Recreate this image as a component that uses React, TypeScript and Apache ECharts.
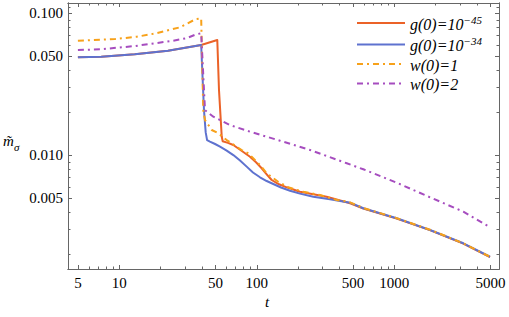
import React, { useEffect, useRef } from 'react';
import * as echarts from 'echarts';

// g(0)=10^-45 (solid orange-red)
const g45T = [5, 7.39, 12.95, 22.6, 39.4, 51.6, 53.1, 55.6, 56.5, 61.7, 67.5, 77.4, 89.2, 98.7, 108.5, 117.6, 128.3, 145, 165, 206, 322, 477, 595, 1041, 1818, 3176, 4966];
const g45M = [0.049, 0.0495, 0.0514, 0.0545, 0.0598, 0.0649, 0.0288, 0.0135, 0.01256, 0.01224, 0.01181, 0.01076, 0.00977, 0.00893, 0.0081, 0.00738, 0.0067, 0.00625, 0.00595, 0.00554, 0.00511, 0.00459, 0.00422, 0.00358, 0.00297, 0.00239, 0.00192];

// g(0)=10^-34 (solid blue)
const g34T = [5, 7.39, 12.95, 22.6, 39.4, 41.3, 42.5, 43.5, 45.6, 49.7, 54, 60.4, 67.5, 75.5, 84.4, 93.8, 105.5, 118, 131.8, 150, 174.4, 206, 257.6, 340.6, 476.8, 595, 1041, 1818, 3176, 4966];
const g34M = [0.049, 0.0495, 0.0514, 0.0545, 0.0598, 0.0208, 0.0145, 0.0128, 0.0125, 0.01201, 0.0115, 0.0108, 0.01004, 0.00919, 0.00832, 0.00757, 0.007, 0.00659, 0.00628, 0.00593, 0.00563, 0.00537, 0.00511, 0.0049, 0.00464, 0.00424, 0.0036, 0.00298, 0.0024, 0.00193];

// w(0)=1 (dot-dashed orange)
const w1T = [5, 9.3, 13.4, 18.5, 27.6, 36.1, 39.4, 40.8, 42.0, 47.0, 52.5, 60.4, 77.6, 86.7, 105.5, 118, 143, 169, 218, 288, 381, 463, 595, 1041, 1818, 3176, 4966];
const w1M = [0.0641, 0.0659, 0.0684, 0.0723, 0.0797, 0.0912, 0.0922, 0.0208, 0.01772, 0.01507, 0.01429, 0.0128, 0.01089, 0.01033, 0.00855, 0.00747, 0.00651, 0.00595, 0.00554, 0.00525, 0.00484, 0.00471, 0.00426, 0.00361, 0.00299, 0.0024, 0.00193];

// w(0)=2 (dot-dashed purple)
const w2T = [5, 7.39, 9.78, 12.95, 18.1, 23.9, 30.7, 36.3, 39.4, 42.0, 48.3, 63.8, 89.2, 118, 147.5, 244, 451, 595, 1041, 1818, 3176, 4966];
const w2M = [0.0551, 0.0558, 0.0573, 0.0588, 0.0615, 0.0638, 0.0667, 0.0712, 0.0723, 0.0208, 0.0187, 0.01634, 0.01466, 0.01352, 0.01267, 0.0109, 0.00879, 0.00797, 0.00641, 0.00506, 0.00401, 0.00311];

const xMajorTicks = [5, 10, 50, 100, 500, 1000, 5000];
const xMinorTicks = [6, 7, 8, 9, 20, 30, 40, 60, 70, 80, 90, 200, 300, 400, 600, 700, 800, 900, 2000, 3000, 4000];
const yMajorTicks = [0.005, 0.01, 0.05, 0.1];
const yMinorTicks = [0.002, 0.003, 0.004, 0.006, 0.007, 0.008, 0.009, 0.02, 0.03, 0.04, 0.06, 0.07, 0.08, 0.09, 0.11];

const seriesNames = ['g45', 'g34', 'w1', 'w2'];
const legendTexts: Record<string, string> = {
  g45: '{a|g(0)=10}{s|−45}',
  g34: '{a|g(0)=10}{s|−34}',
  w1: '{a|w(0)=1}',
  w2: '{a|w(0)=2}',
};

const X_MIN = 4.236;
const X_MAX = 5773;
const Y_MIN = 0.001582;
const Y_MAX = 0.1182;

const FRAME = '#666666';
const SERIF = 'Liberation Serif';
const DOTDASH = [6, 4, 2, 4];

function mkAxis(kind: 'x' | 'y', position: string, ticks: number[], len: number, labels: boolean) {
  const isX = kind === 'x';
  return {
    type: 'log',
    logBase: 10,
    position,
    min: isX ? X_MIN : Y_MIN,
    max: isX ? X_MAX : Y_MAX,
    axisLine: { show: true, lineStyle: { color: FRAME, width: 1 } },
    axisTick: { show: true, inside: true, length: len, customValues: ticks, lineStyle: { color: FRAME, width: 1 } },
    axisLabel: {
      show: labels,
      customValues: ticks,
      margin: isX ? 6 : 5,
      fontFamily: SERIF,
      fontSize: 15,
      color: '#000',
      formatter: (v: number) => (isX ? String(Math.round(v)) : Number(v).toFixed(3)),
    },
    splitLine: { show: false },
    minorTick: { show: false },
    minorSplitLine: { show: false },
  };
}

function pairs(t: number[], m: number[]) {
  return t.map((v, i) => [v, m[i]]);
}

function mkSeries(name: string, data: number[][], color: string, dashed: boolean) {
  return {
    name,
    type: 'line',
    data,
    xAxisIndex: 0,
    yAxisIndex: 0,
    showSymbol: false,
    symbol: 'none',
    smooth: false,
    itemStyle: { color },
    lineStyle: { color, width: 2, type: dashed ? DOTDASH : 'solid', cap: 'butt', join: 'round' },
  };
}

export default function App() {
  const ref = useRef<HTMLDivElement>(null);
  useEffect(() => {
    const chart = echarts.init(ref.current!, null, { renderer: 'svg' });
    const option: any = {
      animation: false,
      backgroundColor: '#ffffff',
      grid: { left: 68, right: 10, top: 3, bottom: 48, containLabel: false, outerBoundsMode: 'none' },
      xAxis: [
        mkAxis('x', 'bottom', xMajorTicks, 4, true),
        mkAxis('x', 'bottom', xMinorTicks, 2.5, false),
        mkAxis('x', 'top', xMajorTicks, 4, false),
        mkAxis('x', 'top', xMinorTicks, 2.5, false),
      ],
      yAxis: [
        mkAxis('y', 'left', yMajorTicks, 4, true),
        mkAxis('y', 'left', yMinorTicks, 2.5, false),
        mkAxis('y', 'right', yMajorTicks, 4, false),
        mkAxis('y', 'right', yMinorTicks, 2.5, false),
      ],
      legend: {
        orient: 'vertical',
        left: 351,
        top: 9,
        itemWidth: 48,
        itemHeight: 14,
        itemGap: 3.5,
        data: seriesNames,
        itemStyle: { opacity: 0 },
        formatter: (name: string) => legendTexts[name],
        textStyle: {
          color: '#000',
          fontFamily: SERIF,
          fontStyle: 'italic',
          fontSize: 16,
          rich: {
            a: { fontFamily: SERIF, fontStyle: 'italic', fontSize: 16, color: '#000', lineHeight: 18, verticalAlign: 'bottom' },
            s: { fontFamily: SERIF, fontStyle: 'italic', fontSize: 11, color: '#000', lineHeight: 11, verticalAlign: 'top' },
          },
        },
      },
      graphic: [
        { type: 'text', left: 3, top: 133, style: { text: 'm\u0303', font: `italic 15px ${SERIF}`, fill: '#000' } },
        { type: 'text', left: 14, top: 141, style: { text: 'σ', font: `italic 11px ${SERIF}`, fill: '#000' } },
        { type: 'text', left: 265, top: 294, style: { text: 't', font: `italic 15px ${SERIF}`, fill: '#000' } },
      ],
      series: [
        mkSeries('g45', pairs(g45T, g45M), '#EB6228', false),
        mkSeries('g34', pairs(g34T, g34M), '#5E72CF', false),
        mkSeries('w1', pairs(w1T, w1M), '#F7A11A', true),
        mkSeries('w2', pairs(w2T, w2M), '#A64DBF', true),
      ],
    };
    chart.setOption(option);
    return () => chart.dispose();
  }, []);
  return (
    <div
      ref={ref}
      style={{ position: 'fixed', left: 0, top: 0, width: 509, height: 317, background: '#fff' }}
    />
  );
}
